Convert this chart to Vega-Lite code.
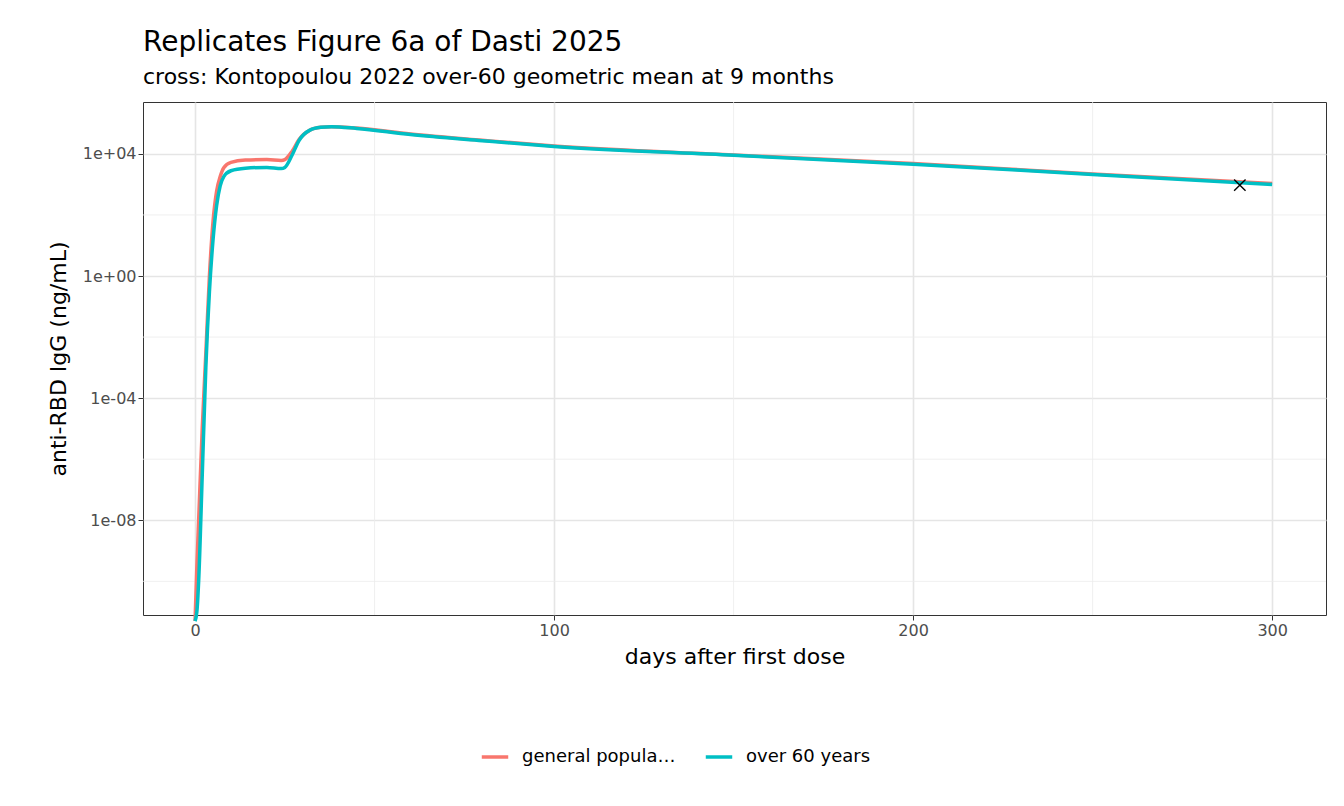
{
  "$schema": "https://vega.github.io/schema/vega-lite/v6.json",
  "autosize": {"type": "none"},
  "padding": {"left": 143, "top": 102, "right": 18, "bottom": 191},
  "width": 1183,
  "height": 513,
  "background": "white",
  "config": {
    "font": "DejaVu Sans",
    "view": {"stroke": "#333333", "strokeWidth": 1},
    "axis": {"labelFontSize": 16, "labelColor": "#4D4D4D", "titleFontSize": 22, "titleFontWeight": "normal", "titleColor": "black", "tickColor": "#333333", "domain": false, "gridColor": "#E5E5E5", "gridWidth": 1.6}
  },
  "title": {"text": "Replicates Figure 6a of Dasti 2025", "subtitle": "cross: Kontopoulou 2022 over-60 geometric mean at 9 months", "anchor": "start", "frame": "group", "fontSize": 28, "fontWeight": "normal", "subtitleFontSize": 22, "subtitleColor": "black", "subtitlePadding": 10, "offset": 14},
  "datasets": {
    "curves": [
      {"day": 0, "igg": 5e-12, "group": "general population"},
      {"day": 0.5, "igg": 3e-10, "group": "general population"},
      {"day": 1, "igg": 1e-8, "group": "general population"},
      {"day": 2, "igg": 1e-5, "group": "general population"},
      {"day": 3, "igg": 3e-3, "group": "general population"},
      {"day": 4, "igg": 1, "group": "general population"},
      {"day": 5, "igg": 60, "group": "general population"},
      {"day": 6, "igg": 600, "group": "general population"},
      {"day": 7, "igg": 1800, "group": "general population"},
      {"day": 8, "igg": 3500, "group": "general population"},
      {"day": 10, "igg": 5300, "group": "general population"},
      {"day": 14, "igg": 6300, "group": "general population"},
      {"day": 20, "igg": 6500, "group": "general population"},
      {"day": 24, "igg": 6100, "group": "general population"},
      {"day": 25, "igg": 6500, "group": "general population"},
      {"day": 27, "igg": 12000, "group": "general population"},
      {"day": 29, "igg": 30000, "group": "general population"},
      {"day": 32, "igg": 60000, "group": "general population"},
      {"day": 35, "igg": 74000, "group": "general population"},
      {"day": 38, "igg": 78000, "group": "general population"},
      {"day": 45, "igg": 70000, "group": "general population"},
      {"day": 60, "igg": 45000, "group": "general population"},
      {"day": 80, "igg": 28000, "group": "general population"},
      {"day": 100, "igg": 18000, "group": "general population"},
      {"day": 150, "igg": 9200, "group": "general population"},
      {"day": 200, "igg": 4800, "group": "general population"},
      {"day": 250, "igg": 2200, "group": "general population"},
      {"day": 300, "igg": 1080, "group": "general population"},
      {"day": 0, "igg": 5e-12, "group": "over 60 years"},
      {"day": 0.5, "igg": 1e-11, "group": "over 60 years"},
      {"day": 1, "igg": 1e-10, "group": "over 60 years"},
      {"day": 2, "igg": 3e-7, "group": "over 60 years"},
      {"day": 3, "igg": 1e-3, "group": "over 60 years"},
      {"day": 4, "igg": 0.3, "group": "over 60 years"},
      {"day": 5, "igg": 15, "group": "over 60 years"},
      {"day": 6, "igg": 200, "group": "over 60 years"},
      {"day": 7, "igg": 900, "group": "over 60 years"},
      {"day": 8, "igg": 1800, "group": "over 60 years"},
      {"day": 10, "igg": 2800, "group": "over 60 years"},
      {"day": 14, "igg": 3400, "group": "over 60 years"},
      {"day": 20, "igg": 3600, "group": "over 60 years"},
      {"day": 24, "igg": 3300, "group": "over 60 years"},
      {"day": 25, "igg": 3600, "group": "over 60 years"},
      {"day": 27, "igg": 9000, "group": "over 60 years"},
      {"day": 29, "igg": 28000, "group": "over 60 years"},
      {"day": 32, "igg": 60000, "group": "over 60 years"},
      {"day": 35, "igg": 74000, "group": "over 60 years"},
      {"day": 38, "igg": 78000, "group": "over 60 years"},
      {"day": 45, "igg": 68000, "group": "over 60 years"},
      {"day": 60, "igg": 43000, "group": "over 60 years"},
      {"day": 80, "igg": 27000, "group": "over 60 years"},
      {"day": 100, "igg": 17500, "group": "over 60 years"},
      {"day": 150, "igg": 9000, "group": "over 60 years"},
      {"day": 200, "igg": 4600, "group": "over 60 years"},
      {"day": 250, "igg": 2100, "group": "over 60 years"},
      {"day": 300, "igg": 1000, "group": "over 60 years"}
    ],
    "minory": [{"v": 1e-10}, {"v": 1e-6}, {"v": 1e-2}, {"v": 100}],
    "minorx": [{"d": 50}, {"d": 150}, {"d": 250}],
    "cross": [{"day": 291, "igg": 950}]
  },
  "layer": [
    {
      "data": {"name": "minory"},
      "mark": {"type": "rule", "color": "#EBEBEB", "strokeWidth": 0.8},
      "encoding": {"y": {"field": "v", "type": "quantitative", "scale": {"type": "log", "domain": [7.9e-12, 5e5], "nice": false}}}
    },
    {
      "data": {"name": "minorx"},
      "mark": {"type": "rule", "color": "#EBEBEB", "strokeWidth": 0.8},
      "encoding": {"x": {"field": "d", "type": "quantitative", "scale": {"domain": [-14.5, 315], "nice": false}}}
    },
    {
      "data": {"name": "curves"},
      "mark": {"type": "line", "strokeWidth": 3.5, "interpolate": "monotone"},
      "encoding": {
        "x": {"field": "day", "type": "quantitative", "title": "days after first dose", "scale": {"domain": [-14.5, 315], "nice": false}, "axis": {"values": [0, 100, 200, 300], "titlePadding": 8}},
        "y": {"field": "igg", "type": "quantitative", "title": "anti-RBD IgG (ng/mL)", "scale": {"type": "log", "domain": [7.9e-12, 5e5], "nice": false}, "axis": {"values": [1e-8, 1e-4, 1, 1e4], "labelExpr": "datum.value >= 1e4 ? '1e+04' : datum.value >= 1 ? '1e+00' : datum.value >= 1e-4 ? '1e-04' : '1e-08'", "titlePadding": 12}},
        "color": {"field": "group", "type": "nominal", "scale": {"domain": ["general population", "over 60 years"], "range": ["#F8766D", "#00BFC4"]}, "legend": {"title": null, "orient": "none", "direction": "horizontal", "legendX": 337, "legendY": 640, "symbolType": "stroke", "symbolSize": 700, "symbolStrokeWidth": 3.5, "labelFontSize": 18, "labelOffset": 12, "columnPadding": 22}}
      }
    },
    {
      "data": {"name": "cross"},
      "mark": {"type": "point", "shape": "M-1,-1L1,1M1,-1L-1,1", "size": 130, "stroke": "black", "strokeWidth": 1.4, "filled": false, "opacity": 1},
      "encoding": {
        "x": {"field": "day", "type": "quantitative"},
        "y": {"field": "igg", "type": "quantitative"}
      }
    }
  ]
}
